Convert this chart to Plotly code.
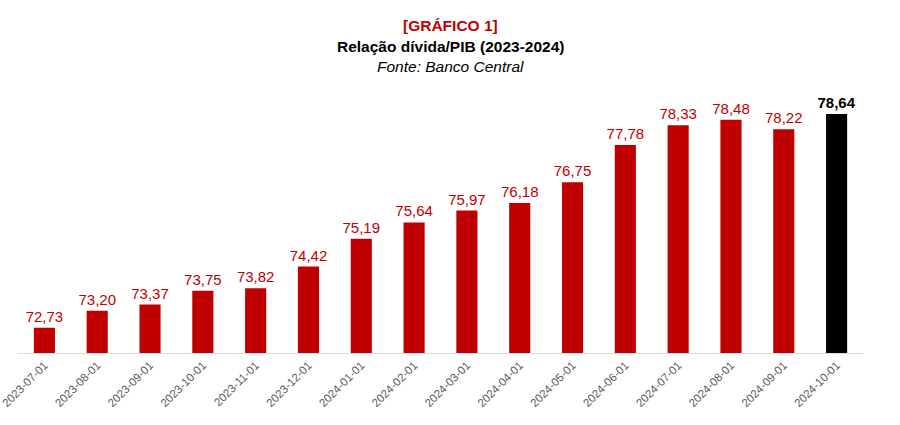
import plotly.graph_objects as go

dates = ["2023-07-01", "2023-08-01", "2023-09-01", "2023-10-01", "2023-11-01", "2023-12-01",
         "2024-01-01", "2024-02-01", "2024-03-01", "2024-04-01", "2024-05-01", "2024-06-01",
         "2024-07-01", "2024-08-01", "2024-09-01", "2024-10-01"]
values = [72.73, 73.20, 73.37, 73.75, 73.82, 74.42, 75.19, 75.64, 75.97, 76.18, 76.75, 77.78,
          78.33, 78.48, 78.22, 78.64]

RED = "#C00000"
n = len(values)
colors = [RED] * (n - 1) + ["#000000"]
labels = [f"{v:.2f}".replace(".", ",") for v in values]
labels[-1] = f"<b>{labels[-1]}</b>"

fig = go.Figure(go.Bar(
    x=dates, y=values, marker=dict(color=colors, line=dict(width=0)),
    text=labels, textposition="outside", cliponaxis=False, constraintext="none",
    textfont=dict(color=colors, size=15, family="Liberation Sans, Arial"),
    width=0.4,
))

fig.update_layout(
    width=900, height=425,
    margin=dict(l=18, r=37, t=80, b=72, autoexpand=False),
    paper_bgcolor="white", plot_bgcolor="white",
    showlegend=False,
    font=dict(family="Liberation Sans, Arial"),
    xaxis=dict(type="category", tickangle=-45, showline=True, linecolor="#d9d9d9", linewidth=1,
               tickfont=dict(size=11.5, color="#595959"), showgrid=False, ticks="", automargin=False),
    yaxis=dict(range=[72.03, 79.58], visible=False, showgrid=False, automargin=False),
)
for txt, yy, col in [("<b>[GRÁFICO 1]</b>", 25, RED), ("<b>Relação dívida/PIB (2023-2024)</b>", 46, "#000000"),
                     ("<i>Fonte: Banco Central</i>", 67, "#000000")]:
    fig.add_annotation(text=txt, x=(450 - 18) / 845, xref="paper", xanchor="center",
                       y=1 + (80 - yy) / 273, yref="paper", yanchor="middle",
                       showarrow=False, font=dict(size=15.5, color=col, family="Liberation Sans, Arial"))

fig.write_html("out.html")
